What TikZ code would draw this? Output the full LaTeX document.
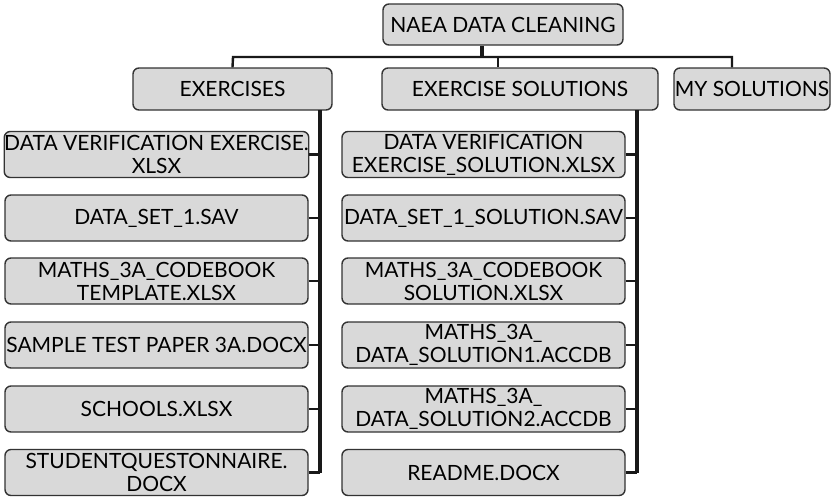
\documentclass[tikz,border=0pt]{standalone}
\usepackage{fontspec}
\setmainfont{Lato}
\definecolor{boxfill}{HTML}{D9D9D9}
\definecolor{boxline}{HTML}{333333}
\tikzset{
  filebox/.style={draw=boxline, fill=boxfill, rounded corners=3pt, line width=0.7pt,
    align=center, inner sep=0pt, font=\fontsize{10.5}{11.5}\selectfont},
  leftfile/.style={filebox, minimum width=151.5pt, minimum height=23pt},
  rightfile/.style={filebox, minimum width=141.5pt, minimum height=23pt},
  link/.style={draw=black!90, line width=1.2pt},
  spine/.style={draw=black!90, line width=1.6pt},
}
\begin{document}
\begin{tikzpicture}[x=0.5pt,y=-0.5pt]
    \useasboundingbox (0,0) rectangle (833,498);

    % Top level and the three folders
    \node[filebox, minimum width=120pt, minimum height=20.5pt] (root) at (503,24.5) {NAEA DATA CLEANING};
    \node[filebox, minimum width=99.5pt, minimum height=21pt] (ex) at (232.5,89) {EXERCISES};
    \node[filebox, minimum width=138pt, minimum height=21pt] (sol) at (520,89) {EXERCISE SOLUTIONS};
    \node[filebox, minimum width=78pt, minimum height=21pt] (my) at (752,89) {MY SOLUTIONS};

    % Bus between the top level and the folders
    \coordinate (rootx) at (482,57);
    \coordinate (busL) at (233,57);
    \coordinate (solx) at (498,57);
    \coordinate (busR) at (732,57);
    \draw[spine] (root.south -| rootx) -- (rootx);
    \draw[link] (ex.north) -- (busL) -- (busR) -- (busR |- my.north);
    \draw[link] (solx) -- (solx |- sol.north);

    % Files in EXERCISES
    \foreach \i/\y/\txt in {1/154.5/{DATA VERIFICATION EXERCISE.\\XLSX},
                            2/218/{DATA\_SET\_1.SAV},
                            3/281/{MATHS\_3A\_CODEBOOK\\TEMPLATE.XLSX},
                            4/345/{SAMPLE TEST PAPER 3A.DOCX},
                            5/409/{SCHOOLS.XLSX},
                            6/472.5/{STUDENTQUESTONNAIRE.\\DOCX}} {
        \node[leftfile] (e\i) at (156.5,\y) {\txt};
    }

    % Files in EXERCISE SOLUTIONS
    \foreach \i/\y/\txt in {1/154.5/{DATA VERIFICATION\\EXERCISE\_SOLUTION.XLSX},
                            2/218/{DATA\_SET\_1\_SOLUTION.SAV},
                            3/281/{MATHS\_3A\_CODEBOOK\\SOLUTION.XLSX},
                            4/345/{MATHS\_3A\_\\DATA\_SOLUTION1.ACCDB},
                            5/409/{MATHS\_3A\_\\DATA\_SOLUTION2.ACCDB},
                            6/472.5/{README.DOCX}} {
        \node[rightfile] (s\i) at (483.5,\y) {\txt};
    }

    % Spines down each folder
    \coordinate (exspine) at (320,110);
    \coordinate (solspine) at (637,110);
    \draw[spine] (exspine) -- (exspine |- e6.east);
    \draw[spine] (solspine) -- (solspine |- s6.east);
    \foreach \i in {1,...,6} {
        \draw[link] (e\i.east) -- (e\i.east -| exspine);
        \draw[link] (s\i.east) -- (s\i.east -| solspine);
    }
\end{tikzpicture}
\end{document}
